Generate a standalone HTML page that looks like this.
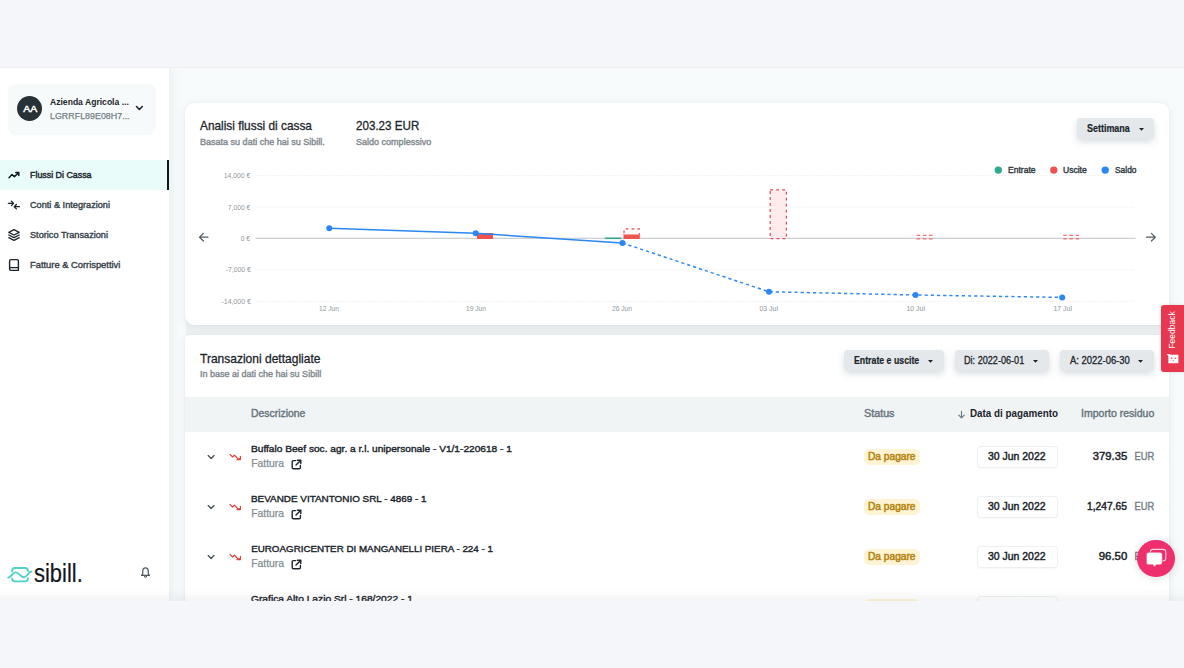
<!DOCTYPE html>
<html lang="it"><head><meta charset="utf-8"><title>Sibill - Flussi di cassa</title>
<style>
*{margin:0;padding:0;box-sizing:border-box}
html,body{width:1184px;height:668px;overflow:hidden;background:#f5f6f9;font-family:"Liberation Sans",sans-serif;}
body{position:relative}
.t{position:absolute;white-space:nowrap;line-height:1;}
.a{position:absolute}
.app{position:absolute;left:0;top:68px;width:1184px;height:533.3px;background:#f7fbfc;overflow:hidden}
.side{position:absolute;left:0;top:68px;width:169.5px;height:533.3px;background:#fff;border-right:1px solid #eef1f2;box-shadow:2px 0 10px rgba(110,130,140,.10)}
.card{position:absolute;background:#fff;border-radius:9px;box-shadow:0 2px 10px rgba(120,135,150,.13),0 0 2px rgba(120,135,150,.10)}
.btn{position:absolute;background:#e4e8ea;border-radius:4px;box-shadow:0 3px 7px rgba(120,135,150,.28)}
.badge{position:absolute;background:#fef3d3;border-radius:5.5px}
.date{position:absolute;background:#fff;border:1px solid #edf0f1;box-shadow:0 1px 2px rgba(120,135,150,.06);border-radius:4px}
svg{position:absolute;overflow:visible}
#root{position:absolute;left:0;top:0;width:1184px;height:668px;overflow:hidden}

</style></head>
<body>
<div id="root">
<div class="app"></div>
<div class="side"></div>
<div class="a" style="left:8px;top:84px;width:147.5px;height:51.4px;background:#f6fafb;border-radius:8px"></div>
<div class="a" style="left:17.3px;top:96.4px;width:25px;height:25px;border-radius:50%;background:#263238"></div>
<div class="t" style="left:23.60px;top:104.83px;font-size:9.3px;color:#fff;transform:scaleX(1.1284);transform-origin:50% 0;-webkit-text-stroke:0.45px #fff;">AA</div>
<div class="t" style="left:50.20px;top:97.46px;font-size:9.5px;color:#1c252c;font-weight:700;transform:scaleX(0.9029);transform-origin:0 0;">Azienda Agricola ...</div>
<div class="t" style="left:50.20px;top:111.93px;font-size:9.3px;color:#757f86;transform:scaleX(0.9564);transform-origin:0 0;-webkit-text-stroke:0.25px #757f86;">LGRRFL89E08H7...</div>
<svg style="left:135px;top:104.6px" width="9" height="7" viewBox="0 0 9 7"><path d="M1.5 1.5 L4.4 4.5 L7.3 1.5" fill="none" stroke="#1c252c" stroke-width="1.6" stroke-linecap="round" stroke-linejoin="round"/></svg>
<div class="a" style="left:0;top:160px;width:167px;height:30px;background:#eafcfa"></div>
<div class="a" style="left:167px;top:160px;width:2.3px;height:30px;background:#11181c"></div>
<div class="t" style="left:30.00px;top:170.36px;font-size:9.5px;color:#1c252c;transform:scaleX(0.9320);transform-origin:0 0;-webkit-text-stroke:0.45px #1c252c;">Flussi Di Cassa</div>
<div class="t" style="left:30.00px;top:200.36px;font-size:9.5px;color:#37424a;transform:scaleX(0.9649);transform-origin:0 0;-webkit-text-stroke:0.4px #37424a;">Conti &amp; Integrazioni</div>
<div class="t" style="left:30.00px;top:230.36px;font-size:9.5px;color:#37424a;transform:scaleX(0.9655);transform-origin:0 0;-webkit-text-stroke:0.4px #37424a;">Storico Transazioni</div>
<div class="t" style="left:30.00px;top:260.36px;font-size:9.5px;color:#37424a;transform:scaleX(0.9830);transform-origin:0 0;-webkit-text-stroke:0.4px #37424a;">Fatture &amp; Corrispettivi</div>
<svg style="left:7px;top:169px" width="14" height="12" viewBox="0 0 14 12"><path d="M2 8.8 L5 5.6 L7.4 7.6 L11.6 3.8 M8.8 3.6 L11.8 3.6 L11.8 6.6" fill="none" stroke="#11181c" stroke-width="1.5" stroke-linecap="round" stroke-linejoin="round"/></svg>
<svg style="left:7px;top:198px" width="14" height="14" viewBox="0 0 14 14"><path d="M1.4 5.4 H6.4 M4.4 3.2 L6.6 5.4 L4.4 7.6 M12.4 8.7 H7.4 M9.4 6.5 L7.2 8.7 L9.4 10.9" fill="none" stroke="#1c252c" stroke-width="1.3" stroke-linecap="round" stroke-linejoin="round"/></svg>
<svg style="left:7px;top:228px" width="14" height="14" viewBox="0 0 14 14"><path d="M7 1.6 L12.2 4.3 L7 7 L1.8 4.3 Z M1.8 7 L7 9.7 L12.2 7 M1.8 9.7 L7 12.4 L12.2 9.7" fill="none" stroke="#1c252c" stroke-width="1.3" stroke-linecap="round" stroke-linejoin="round"/></svg>
<svg style="left:7px;top:258px" width="14" height="14" viewBox="0 0 14 14"><path d="M2.6 2.9 Q2.6 1.6 3.9 1.6 H10.1 Q11.4 1.6 11.4 2.9 V12.4 H3.9 Q2.6 12.4 2.6 11.1 Z M2.6 10.2 Q2.9 9.6 3.9 9.6 H11.4" fill="none" stroke="#1c252c" stroke-width="1.4" stroke-linejoin="round"/></svg>
<svg style="left:0;top:0" width="100" height="668" viewBox="0 0 100 668"><g fill="none" stroke="#4fd1c5" stroke-width="1.9" stroke-linecap="round" stroke-linejoin="round"><path d="M12.2 571.6 V570.6 Q12.2 568 14.8 568 H25.2 Q27.8 568 27.8 570.6 V571"/><path d="M12.2 578.4 V578.8 Q12.2 581.4 14.8 581.4 H25.2 Q27.8 581.4 27.8 578.8 V578.2"/><path d="M8.2 577.6 C11.2 577.6 12.4 572.4 15.8 572.4 C19.4 572.4 20.4 577.2 24 577.2 C27.4 577.2 28.4 571.5 31.4 571.5"/></g></svg>
<div class="t" style="left:33.60px;top:561.01px;font-size:25.5px;color:#11161d;transform:scaleX(0.8610);transform-origin:0 0;-webkit-text-stroke:0.2px #11161d;">sibill.</div>
<svg style="left:0;top:0" width="170" height="668" viewBox="0 0 170 668"><path d="M141.5 575.4 L142.7 574 V571.5 C142.7 569.3 143.9 567.9 145.5 567.9 C147.1 567.9 148.3 569.3 148.3 571.5 V574 L149.5 575.4 Z" fill="none" stroke="#50595f" stroke-width="1.25" stroke-linejoin="round"/><path d="M144.4 576.3 Q145.5 578.2 146.6 576.3" fill="none" stroke="#50595f" stroke-width="1.1" stroke-linecap="round"/></svg>
<div class="a" style="left:186px;top:318px;width:982px;height:17.5px;background:linear-gradient(#ebeff1,#f0f3f4)"></div>
<div class="card" style="left:185px;top:103px;width:984px;height:222px"></div>
<div class="t" style="left:200.00px;top:119.73px;font-size:12.6px;color:#1c252c;transform:scaleX(0.9408);transform-origin:0 0;-webkit-text-stroke:0.3px #1c252c;">Analisi flussi di cassa</div>
<div class="t" style="left:200.00px;top:137.61px;font-size:9.2px;color:#7f898f;transform:scaleX(0.9816);transform-origin:0 0;-webkit-text-stroke:0.4px #7f898f;">Basata su dati che hai su Sibill.</div>
<div class="t" style="left:355.50px;top:119.73px;font-size:12.6px;color:#1c252c;transform:scaleX(0.9222);transform-origin:0 0;-webkit-text-stroke:0.3px #1c252c;">203.23 EUR</div>
<div class="t" style="left:355.50px;top:137.61px;font-size:9.2px;color:#7f898f;transform:scaleX(0.9817);transform-origin:0 0;-webkit-text-stroke:0.4px #7f898f;">Saldo complessivo</div>
<div class="btn" style="left:1077.3px;top:118.2px;width:76.4px;height:20.6px"></div>
<div class="t" style="left:1086.70px;top:124.10px;font-size:10.4px;color:#1c252c;font-weight:700;transform:scaleX(0.8611);transform-origin:0 0;-webkit-text-stroke:0.2px #1c252c;">Settimana</div>
<svg style="left:1138.5px;top:127.5px" width="5" height="3" viewBox="0 0 5 3"><path d="M0 0 H5 L2.5 2.8 Z" fill="#1c252c"/></svg>
<svg style="left:0;top:0" width="1184" height="200" viewBox="0 0 1184 200"><circle cx="998.3" cy="170.1" r="3.7" fill="#2fa98f"/><circle cx="1053.8" cy="170.1" r="3.7" fill="#ef5350"/><circle cx="1105.2" cy="170.1" r="3.7" fill="#2b87f3"/></svg>
<div class="t" style="left:1007.50px;top:165.58px;font-size:9px;color:#2f383e;transform:scaleX(0.9477);transform-origin:0 0;-webkit-text-stroke:0.4px #2f383e;">Entrate</div>
<div class="t" style="left:1063.00px;top:165.58px;font-size:9px;color:#2f383e;transform:scaleX(0.9498);transform-origin:0 0;-webkit-text-stroke:0.4px #2f383e;">Uscite</div>
<div class="t" style="left:1114.50px;top:165.58px;font-size:9px;color:#2f383e;transform:scaleX(0.9340);transform-origin:0 0;-webkit-text-stroke:0.4px #2f383e;">Saldo</div>
<div class="t" style="left:222.08px;top:171.92px;font-size:7.3px;color:#8f989e;transform:scaleX(0.9396);transform-origin:100% 0;">14,000 €</div>
<div class="t" style="left:226.14px;top:203.72px;font-size:7.3px;color:#8f989e;transform:scaleX(0.9238);transform-origin:100% 0;">7,000 €</div>
<div class="t" style="left:240.35px;top:234.72px;font-size:7.3px;color:#8f989e;transform:scaleX(0.9361);transform-origin:100% 0;">0 €</div>
<div class="t" style="left:223.71px;top:266.12px;font-size:7.3px;color:#8f989e;transform:scaleX(0.9333);transform-origin:100% 0;">-7,000 €</div>
<div class="t" style="left:219.65px;top:297.72px;font-size:7.3px;color:#8f989e;transform:scaleX(0.9498);transform-origin:100% 0;">-14,000 €</div>
<div class="t" style="left:318.29px;top:305.22px;font-size:7.3px;color:#8f989e;transform:scaleX(0.9125);transform-origin:50% 0;">12 Jun</div>
<div class="t" style="left:464.89px;top:305.22px;font-size:7.3px;color:#8f989e;transform:scaleX(0.9125);transform-origin:50% 0;">19 Jun</div>
<div class="t" style="left:611.49px;top:305.22px;font-size:7.3px;color:#8f989e;transform:scaleX(0.9125);transform-origin:50% 0;">26 Jun</div>
<div class="t" style="left:759.31px;top:305.22px;font-size:7.3px;color:#8f989e;transform:scaleX(0.9497);transform-origin:50% 0;">03 Jul</div>
<div class="t" style="left:905.91px;top:305.22px;font-size:7.3px;color:#8f989e;transform:scaleX(0.9497);transform-origin:50% 0;">10 Jul</div>
<div class="t" style="left:1052.51px;top:305.22px;font-size:7.3px;color:#8f989e;transform:scaleX(0.9497);transform-origin:50% 0;">17 Jul</div>
<svg style="left:0;top:0" width="1184" height="668" viewBox="0 0 1184 668"><line x1="255.5" x2="1135.5" y1="175.5" y2="175.5" stroke="#edeff1" stroke-width="1" stroke-dasharray="1.6 1.6"/><line x1="255.5" x2="1135.5" y1="207.2" y2="207.2" stroke="#edeff1" stroke-width="1" stroke-dasharray="1.6 1.6"/><line x1="255.5" x2="1135.5" y1="269.7" y2="269.7" stroke="#edeff1" stroke-width="1" stroke-dasharray="1.6 1.6"/><line x1="255.5" x2="1135.5" y1="301.3" y2="301.3" stroke="#edeff1" stroke-width="1" stroke-dasharray="1.6 1.6"/><line x1="255.5" x2="1135.5" y1="238.3" y2="238.3" stroke="#bfc3c6" stroke-width="1.1"/><rect x="477" y="233" width="16" height="6" fill="#ef5350"/><rect x="605" y="237.5" width="16.3" height="1.6" fill="#2fa98f"/><rect x="623.5" y="234" width="16.3" height="5" fill="#ef5350"/><path d="M624 234.5 V228.9 H639.3 V234.5" fill="#fff8f7" stroke="#de4c58" stroke-width="1.2" stroke-dasharray="2.7 3.2" stroke-dashoffset="4.6"/><rect x="770.2" y="189.9" width="16.2" height="48.8" fill="#fdeceb" stroke="#de4c58" stroke-width="1.2" stroke-dasharray="2.9 3.1"/><path d="M916.6 235.3 H933.2 M916.6 238.9 H933.2" fill="none" stroke="#ef5350" stroke-width="1" stroke-dasharray="3.6 2.6"/><path d="M1063.2 235.3 H1079.8 M1063.2 238.9 H1079.8" fill="none" stroke="#ef5350" stroke-width="1" stroke-dasharray="3.6 2.6"/><polyline points="329.25,228.25 475.75,233.25 622.5,243" fill="none" stroke="#2b87f3" stroke-width="1.5" stroke-linejoin="round"/><polyline points="622.5,243 769,291.75 915.5,295 1062.2,297.4" fill="none" stroke="#2b87f3" stroke-width="1.45" stroke-dasharray="3.2 3" stroke-linejoin="round"/><circle cx="329.25" cy="228.25" r="3" fill="#2b87f3"/><circle cx="475.75" cy="233.25" r="3" fill="#2b87f3"/><circle cx="622.5" cy="243" r="3" fill="#2b87f3"/><circle cx="769" cy="291.75" r="3" fill="#2b87f3"/><circle cx="915.5" cy="295" r="3" fill="#2b87f3"/><circle cx="1062.2" cy="297.4" r="3" fill="#2b87f3"/><path d="M208 237.2 H199.6 M203.4 233.4 L199.5 237.2 L203.4 241" fill="none" stroke="#555f66" stroke-width="1.2" stroke-linecap="round" stroke-linejoin="round"/><path d="M1146.4 237.2 H1155.2 M1151.4 233.4 L1155.3 237.2 L1151.4 241" fill="none" stroke="#555f66" stroke-width="1.2" stroke-linecap="round" stroke-linejoin="round"/></svg>
<div class="card" style="left:185px;top:335.3px;width:984px;height:300px;overflow:hidden;border-radius:4px 4px 0 0"><div class="a" style="left:0;top:61.5px;width:984px;height:35.3px;background:#f1f4f5"></div></div>
<div class="t" style="left:200.00px;top:352.93px;font-size:12.6px;color:#1c252c;transform:scaleX(0.9540);transform-origin:0 0;-webkit-text-stroke:0.3px #1c252c;">Transazioni dettagliate</div>
<div class="t" style="left:200.00px;top:369.71px;font-size:9.2px;color:#7f898f;transform:scaleX(0.9801);transform-origin:0 0;-webkit-text-stroke:0.4px #7f898f;">In base ai dati che hai su Sibill</div>
<div class="btn" style="left:844px;top:350.3px;width:100px;height:21px"></div>
<div class="t" style="left:853.75px;top:355.60px;font-size:10.4px;color:#1c252c;font-weight:700;transform:scaleX(0.8431);transform-origin:0 0;-webkit-text-stroke:0.2px #1c252c;">Entrate e uscite</div>
<svg style="left:928.2px;top:359.8px" width="5" height="3" viewBox="0 0 5 3"><path d="M0 0 H5 L2.5 2.8 Z" fill="#1c252c"/></svg>
<div class="btn" style="left:954.5px;top:350.3px;width:94.5px;height:21px"></div>
<div class="t" style="left:964.25px;top:355.60px;font-size:10.4px;color:#1c252c;transform:scaleX(0.8764);transform-origin:0 0;-webkit-text-stroke:0.3px #1c252c;">Di: 2022-06-01</div>
<svg style="left:1033.2px;top:359.8px" width="5" height="3" viewBox="0 0 5 3"><path d="M0 0 H5 L2.5 2.8 Z" fill="#1c252c"/></svg>
<div class="btn" style="left:1059.7px;top:350.3px;width:94.5px;height:21px"></div>
<div class="t" style="left:1069.75px;top:355.60px;font-size:10.4px;color:#1c252c;transform:scaleX(0.9072);transform-origin:0 0;-webkit-text-stroke:0.3px #1c252c;">A: 2022-06-30</div>
<svg style="left:1138.4px;top:359.8px" width="5" height="3" viewBox="0 0 5 3"><path d="M0 0 H5 L2.5 2.8 Z" fill="#1c252c"/></svg>
<div class="t" style="left:251.25px;top:408.94px;font-size:10px;color:#69757d;transform:scaleX(1.0394);transform-origin:0 0;-webkit-text-stroke:0.4px #69757d;">Descrizione</div>
<div class="t" style="left:863.75px;top:408.94px;font-size:10px;color:#69757d;transform:scaleX(1.0758);transform-origin:0 0;-webkit-text-stroke:0.4px #69757d;">Status</div>
<div class="t" style="left:969.50px;top:408.94px;font-size:10px;color:#1c252c;font-weight:700;transform:scaleX(0.9837);transform-origin:0 0;">Data di pagamento</div>
<div class="t" style="left:1080.75px;top:408.94px;font-size:10px;color:#69757d;transform:scaleX(1.0550);transform-origin:0 0;-webkit-text-stroke:0.4px #69757d;">Importo residuo</div>
<svg style="left:956.5px;top:408.5px" width="9" height="10" viewBox="0 0 9 10"><path d="M4.5 2.4 V8.8 M1.8 6.1 L4.5 8.9 L7.2 6.1" fill="none" stroke="#69757d" stroke-width="1.1" stroke-linecap="round" stroke-linejoin="round"/></svg>
<div class="t" style="left:251.20px;top:444.30px;font-size:9.8px;color:#1c252c;transform:scaleX(1.0354);transform-origin:0 0;-webkit-text-stroke:0.4px #1c252c;">Buffalo Beef soc. agr. a r.l. unipersonale - V1/1-220618 - 1</div>
<div class="t" style="left:251.20px;top:458.90px;font-size:10.4px;color:#858e94;-webkit-text-stroke:0.25px #858e94;">Fattura</div>
<svg style="left:206.5px;top:453.6px" width="9" height="6" viewBox="0 0 9 6"><path d="M1.2 1.6 L4.1 4.5 L7 1.6" fill="none" stroke="#4a545b" stroke-width="1.35" stroke-linecap="round" stroke-linejoin="round"/></svg>
<svg style="left:229px;top:452.6px" width="13" height="9" viewBox="0 0 13 9"><path d="M1 1.4 L3.6 4 L5.4 2.2 L7.2 4 L9 5.8 L11 5.8 M11.4 3.2 V6.6 H8" fill="none" stroke="#e53935" stroke-width="1.1" stroke-linecap="round" stroke-linejoin="round"/></svg>
<svg style="left:290.6px;top:458.7px" width="11" height="11" viewBox="0 0 11 11"><path d="M4.6 1.6 H2.4 Q1.2 1.6 1.2 2.8 V8.6 Q1.2 9.8 2.4 9.8 H8.2 Q9.4 9.8 9.4 8.6 V6.4 M6.4 1.2 H9.8 V4.6 M9.6 1.4 L5 6" fill="none" stroke="#1c252c" stroke-width="1.4" stroke-linecap="round" stroke-linejoin="round"/></svg>
<div class="badge" style="left:863.75px;top:448.6px;width:56.3px;height:16.4px"></div>
<div class="t" style="left:868.25px;top:451.94px;font-size:10px;color:#b3850f;transform:scaleX(1.0171);transform-origin:0 0;-webkit-text-stroke:0.5px #b3850f;">Da pagare</div>
<div class="date" style="left:976.8px;top:445.5px;width:81.2px;height:22px"></div>
<div class="t" style="left:988.25px;top:451.11px;font-size:10.5px;color:#1c252c;transform:scaleX(0.9948);transform-origin:0 0;-webkit-text-stroke:0.45px #1c252c;">30 Jun 2022</div>
<div class="t" style="left:1094.88px;top:451.11px;font-size:10.5px;color:#1c252c;transform:scaleX(1.0680);transform-origin:100% 0;-webkit-text-stroke:0.45px #1c252c;">379.35</div>
<div class="t" style="left:1132.13px;top:451.11px;font-size:10.5px;color:#727d84;transform:scaleX(0.8886);transform-origin:100% 0;-webkit-text-stroke:0.4px #727d84;">EUR</div>
<div class="t" style="left:251.20px;top:494.30px;font-size:9.8px;color:#1c252c;transform:scaleX(1.0097);transform-origin:0 0;-webkit-text-stroke:0.4px #1c252c;">BEVANDE VITANTONIO SRL - 4869 - 1</div>
<div class="t" style="left:251.20px;top:508.90px;font-size:10.4px;color:#858e94;-webkit-text-stroke:0.25px #858e94;">Fattura</div>
<svg style="left:206.5px;top:503.6px" width="9" height="6" viewBox="0 0 9 6"><path d="M1.2 1.6 L4.1 4.5 L7 1.6" fill="none" stroke="#4a545b" stroke-width="1.35" stroke-linecap="round" stroke-linejoin="round"/></svg>
<svg style="left:229px;top:502.6px" width="13" height="9" viewBox="0 0 13 9"><path d="M1 1.4 L3.6 4 L5.4 2.2 L7.2 4 L9 5.8 L11 5.8 M11.4 3.2 V6.6 H8" fill="none" stroke="#e53935" stroke-width="1.1" stroke-linecap="round" stroke-linejoin="round"/></svg>
<svg style="left:290.6px;top:508.7px" width="11" height="11" viewBox="0 0 11 11"><path d="M4.6 1.6 H2.4 Q1.2 1.6 1.2 2.8 V8.6 Q1.2 9.8 2.4 9.8 H8.2 Q9.4 9.8 9.4 8.6 V6.4 M6.4 1.2 H9.8 V4.6 M9.6 1.4 L5 6" fill="none" stroke="#1c252c" stroke-width="1.4" stroke-linecap="round" stroke-linejoin="round"/></svg>
<div class="badge" style="left:863.75px;top:498.6px;width:56.3px;height:16.4px"></div>
<div class="t" style="left:868.25px;top:501.94px;font-size:10px;color:#b3850f;transform:scaleX(1.0171);transform-origin:0 0;-webkit-text-stroke:0.5px #b3850f;">Da pagare</div>
<div class="date" style="left:976.8px;top:495.5px;width:81.2px;height:22px"></div>
<div class="t" style="left:988.25px;top:501.11px;font-size:10.5px;color:#1c252c;transform:scaleX(0.9948);transform-origin:0 0;-webkit-text-stroke:0.45px #1c252c;">30 Jun 2022</div>
<div class="t" style="left:1086.13px;top:501.11px;font-size:10.5px;color:#1c252c;transform:scaleX(0.9738);transform-origin:100% 0;-webkit-text-stroke:0.45px #1c252c;">1,247.65</div>
<div class="t" style="left:1132.13px;top:501.11px;font-size:10.5px;color:#727d84;transform:scaleX(0.8886);transform-origin:100% 0;-webkit-text-stroke:0.4px #727d84;">EUR</div>
<div class="t" style="left:251.20px;top:544.30px;font-size:9.8px;color:#1c252c;-webkit-text-stroke:0.4px #1c252c;">EUROAGRICENTER DI MANGANELLI PIERA - 224 - 1</div>
<div class="t" style="left:251.20px;top:558.90px;font-size:10.4px;color:#858e94;-webkit-text-stroke:0.25px #858e94;">Fattura</div>
<svg style="left:206.5px;top:553.6px" width="9" height="6" viewBox="0 0 9 6"><path d="M1.2 1.6 L4.1 4.5 L7 1.6" fill="none" stroke="#4a545b" stroke-width="1.35" stroke-linecap="round" stroke-linejoin="round"/></svg>
<svg style="left:229px;top:552.6px" width="13" height="9" viewBox="0 0 13 9"><path d="M1 1.4 L3.6 4 L5.4 2.2 L7.2 4 L9 5.8 L11 5.8 M11.4 3.2 V6.6 H8" fill="none" stroke="#e53935" stroke-width="1.1" stroke-linecap="round" stroke-linejoin="round"/></svg>
<svg style="left:290.6px;top:558.7px" width="11" height="11" viewBox="0 0 11 11"><path d="M4.6 1.6 H2.4 Q1.2 1.6 1.2 2.8 V8.6 Q1.2 9.8 2.4 9.8 H8.2 Q9.4 9.8 9.4 8.6 V6.4 M6.4 1.2 H9.8 V4.6 M9.6 1.4 L5 6" fill="none" stroke="#1c252c" stroke-width="1.4" stroke-linecap="round" stroke-linejoin="round"/></svg>
<div class="badge" style="left:863.75px;top:548.6px;width:56.3px;height:16.4px"></div>
<div class="t" style="left:868.25px;top:551.93px;font-size:10px;color:#b3850f;transform:scaleX(1.0171);transform-origin:0 0;-webkit-text-stroke:0.5px #b3850f;">Da pagare</div>
<div class="date" style="left:976.8px;top:545.5px;width:81.2px;height:22px"></div>
<div class="t" style="left:988.25px;top:551.11px;font-size:10.5px;color:#1c252c;transform:scaleX(0.9948);transform-origin:0 0;-webkit-text-stroke:0.45px #1c252c;">30 Jun 2022</div>
<div class="t" style="left:1100.72px;top:551.11px;font-size:10.5px;color:#1c252c;transform:scaleX(1.0846);transform-origin:100% 0;-webkit-text-stroke:0.45px #1c252c;">96.50</div>
<div class="t" style="left:1132.13px;top:551.11px;font-size:10.5px;color:#727d84;transform:scaleX(0.8886);transform-origin:100% 0;-webkit-text-stroke:0.4px #727d84;">EUR</div>
<div class="t" style="left:251.20px;top:594.30px;font-size:9.8px;color:#1c252c;transform:scaleX(1.0435);transform-origin:0 0;-webkit-text-stroke:0.4px #1c252c;">Grafica Alto Lazio Srl - 168/2022 - 1</div>
<div class="t" style="left:251.20px;top:608.90px;font-size:10.4px;color:#858e94;-webkit-text-stroke:0.25px #858e94;">Fattura</div>
<svg style="left:206.5px;top:603.6px" width="9" height="6" viewBox="0 0 9 6"><path d="M1.2 1.6 L4.1 4.5 L7 1.6" fill="none" stroke="#4a545b" stroke-width="1.35" stroke-linecap="round" stroke-linejoin="round"/></svg>
<svg style="left:229px;top:602.6px" width="13" height="9" viewBox="0 0 13 9"><path d="M1 1.4 L3.6 4 L5.4 2.2 L7.2 4 L9 5.8 L11 5.8 M11.4 3.2 V6.6 H8" fill="none" stroke="#e53935" stroke-width="1.1" stroke-linecap="round" stroke-linejoin="round"/></svg>
<svg style="left:290.6px;top:608.7px" width="11" height="11" viewBox="0 0 11 11"><path d="M4.6 1.6 H2.4 Q1.2 1.6 1.2 2.8 V8.6 Q1.2 9.8 2.4 9.8 H8.2 Q9.4 9.8 9.4 8.6 V6.4 M6.4 1.2 H9.8 V4.6 M9.6 1.4 L5 6" fill="none" stroke="#1c252c" stroke-width="1.4" stroke-linecap="round" stroke-linejoin="round"/></svg>
<div class="badge" style="left:863.75px;top:598.6px;width:56.3px;height:16.4px"></div>
<div class="t" style="left:868.25px;top:601.93px;font-size:10px;color:#b3850f;transform:scaleX(1.0171);transform-origin:0 0;-webkit-text-stroke:0.5px #b3850f;">Da pagare</div>
<div class="date" style="left:976.8px;top:595.5px;width:81.2px;height:22px"></div>
<div class="t" style="left:988.25px;top:601.11px;font-size:10.5px;color:#1c252c;transform:scaleX(0.9948);transform-origin:0 0;-webkit-text-stroke:0.45px #1c252c;">30 Jun 2022</div>
<div class="a" style="left:0;top:589px;width:1184px;height:12.3px;background:linear-gradient(to bottom,rgba(90,100,110,0),rgba(90,100,110,.07))"></div>
<div class="a" style="left:0;top:601.3px;width:1184px;height:67px;background:#f5f6f9"></div>
<div class="a" style="left:0;top:0;width:1184px;height:67.5px;background:#f5f6f9;border-bottom:1px solid #eceef0"></div>
<div class="a" style="left:1161.2px;top:304.6px;width:23px;height:67.5px;background:#e8384f;border-radius:3px 0 0 3px;box-shadow:0 0 3px rgba(0,0,0,.15)"></div>
<div class="t" style="left:1168px;top:312.2px;height:36.6px;font-size:8.5px;color:#fff;writing-mode:vertical-rl;transform:rotate(180deg);line-height:9px;width:9px">Feedback</div>
<svg style="left:1166px;top:353px" width="14" height="12" viewBox="0 0 14 12"><path d="M0.8 1 H3.6 L4.6 1.8 H12.4 V10.3 H2.4 V3.2 Z" fill="#fff"/><circle cx="5.6" cy="5.2" r=".75" fill="#e8384f"/><circle cx="9.2" cy="5.2" r=".75" fill="#e8384f"/><path d="M6.4 7.2 Q7.4 8.6 8.4 7.2 Z" fill="#e8384f"/></svg>
<div class="a" style="left:1137.2px;top:539.8px;width:37.4px;height:37.4px;border-radius:50%;background:#ef2f6d;box-shadow:0 1px 8px rgba(60,60,80,.16)"></div>
<svg style="left:0;top:0" width="1184" height="668" viewBox="0 0 1184 668"><rect x="1150.4" y="549.4" width="15.4" height="11.4" rx="2.6" fill="none" stroke="#ffd3e2" stroke-width="1.1"/><path d="M1148.9 552.2 H1159.7 Q1162.3 552.2 1162.3 554.8 V562.2 Q1162.3 564.8 1159.7 564.8 H1156.4 L1154.6 567 L1152.8 564.8 H1148.9 Q1146.3 564.8 1146.3 562.2 V554.8 Q1146.3 552.2 1148.9 552.2 Z" fill="#fff" stroke="#ef2f6d" stroke-width=".6"/></svg>
</div>
</body></html>
